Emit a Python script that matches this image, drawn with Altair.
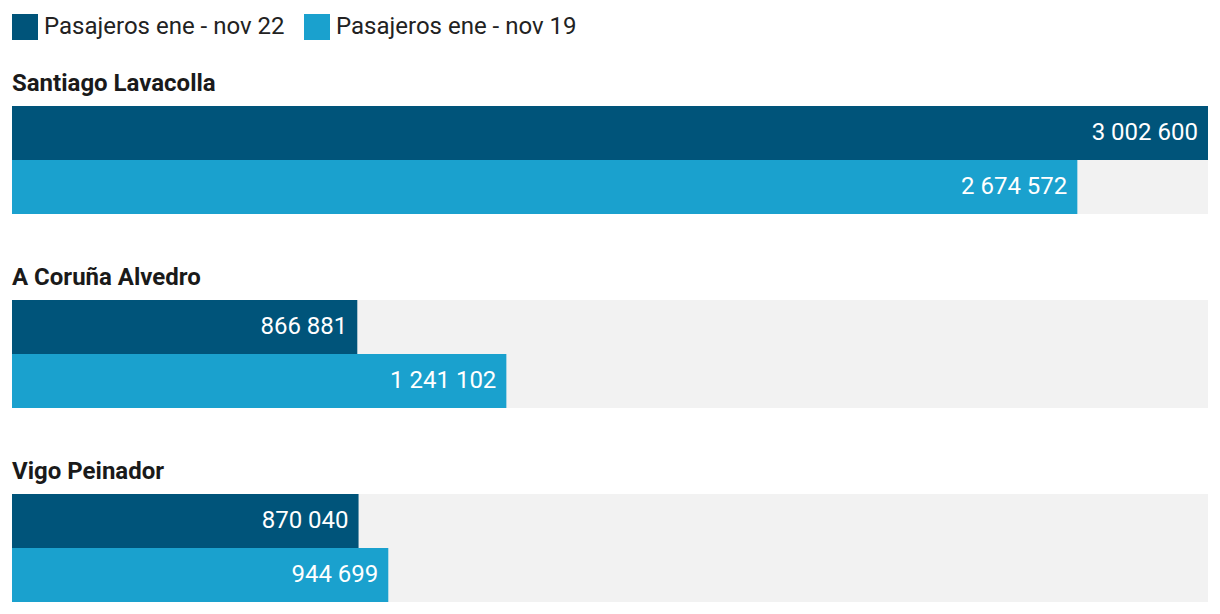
import altair as alt
import pandas as pd

airports = ["Santiago Lavacolla", "A Coruña Alvedro", "Vigo Peinador"]
series = ["Pasajeros ene - nov 22", "Pasajeros ene - nov 19"]
pax_22 = [3002600, 866881, 870040]
pax_19 = [2674572, 1241102, 944699]
colors = ["#00547a", "#1aa1ce"]

rows = []
for i, a in enumerate(airports):
    for s, vals in zip(series, [pax_22, pax_19]):
        rows.append({"airport": a, "series": s, "value": vals[i],
                     "label": f"{vals[i]:,}".replace(",", " ")})
df = pd.DataFrame(rows)
xmax = max(pax_22 + pax_19)


def panel(a):
    base = alt.Chart(df).transform_filter(alt.datum.airport == a)
    x = alt.X("value:Q", scale=alt.Scale(domain=[0, xmax], nice=False, zero=True), axis=None)
    y = alt.Y("series:N", sort=series,
              scale=alt.Scale(domain=series, paddingInner=0, paddingOuter=0), axis=None)
    bars = base.mark_bar().encode(
        x=x, y=y,
        color=alt.Color("series:N", sort=series,
                        scale=alt.Scale(domain=series, range=colors),
                        legend=alt.Legend(title=None, orient="top", direction="horizontal",
                                          symbolType="square", symbolSize=676,
                                          symbolStrokeWidth=0, symbolOpacity=1,
                                          labelFontSize=24, labelFont="Roboto",
                                          labelColor="#222222", labelOffset=6,
                                          columnPadding=19, offset=32, labelLimit=400)),
    )
    text = base.mark_text(align="right", baseline="middle", dx=-10, color="white",
                          fontSize=24, font="Roboto").encode(x=x, y=y, text="label:N")
    return alt.layer(bars, text).properties(
        width=1196, height=108,
        title=alt.Title(a, anchor="start", fontSize=24, font="Roboto", fontWeight="bold",
                        color="#1a1a1a", offset=10),
    )


chart = alt.vconcat(*[panel(a) for a in airports], spacing=52).properties(
    padding={"left": 4, "top": 6, "right": 0, "bottom": 0}
).configure(font="Roboto").configure_view(fill="#f2f2f2", strokeWidth=0)

chart.save("out.html", embed_options={"renderer": "svg", "actions": False})
